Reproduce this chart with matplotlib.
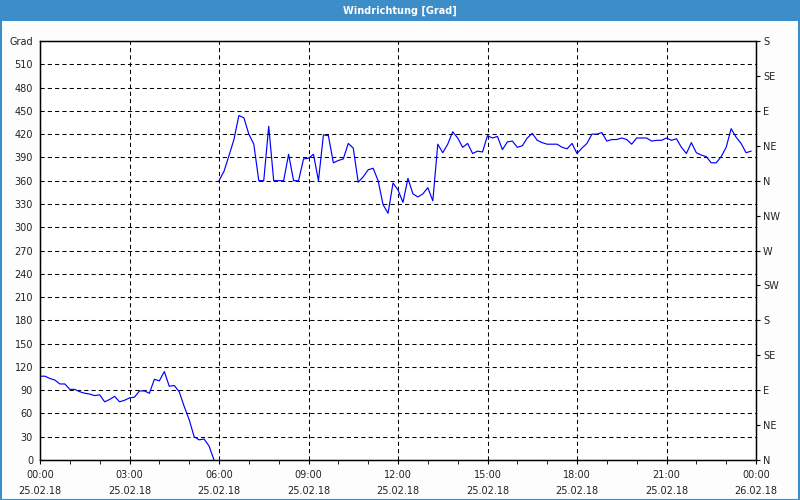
import matplotlib.pyplot as plt
import numpy as np
from matplotlib.patches import Rectangle

plt.rcParams['font.family'] = ['DejaVu Sans']

# wind direction, 10-minute values
seg1_start = 0.0   # hour of first value
seg1_values = [108, 108, 105, 103, 98, 98, 91, 91, 88, 86, 85, 83, 84, 75, 78, 82, 75, 77,
               80, 81, 89, 89, 86, 104, 102, 114, 95, 96, 88, 69, 52, 30, 26, 27, 18, 0]
seg2_start = 6.0
seg2_values = [360, 372, 392, 413, 444, 441, 420, 407, 360, 360, 430, 360, 360, 360, 394, 360,
               360, 388, 389, 394, 360, 419, 418, 383, 386, 388, 408, 402, 358, 365, 374, 376,
               360, 329, 318, 357, 348, 332, 363, 343, 339, 343, 351, 334, 407, 396, 407, 423,
               415, 403, 408, 395, 398, 397, 418, 415, 417, 400, 410, 411, 403, 405, 415, 421,
               412, 409, 407, 407, 407, 403, 401, 408, 395, 402, 408, 420, 420, 422, 411, 413,
               413, 415, 413, 407, 415, 415, 415, 411, 412, 412, 415, 412, 414, 403, 395, 409,
               396, 393, 391, 383, 383, 391, 403, 427, 416, 408, 396, 398]

xtick_hours = np.arange(0, 25, 3)
xtick_labels = ['00:00\n25.02.18', '03:00\n25.02.18', '06:00\n25.02.18', '09:00\n25.02.18',
                '12:00\n25.02.18', '15:00\n25.02.18', '18:00\n25.02.18', '21:00\n25.02.18',
                '00:00\n26.02.18']
compass = ['N', 'NE', 'E', 'SE', 'S', 'SW', 'W', 'NW', 'N', 'NE', 'E', 'SE', 'S']

blue_bar = '#3d8ec8'
txt = '#222222'

fig = plt.figure(figsize=(8, 5), dpi=100, facecolor='#fcfdfc')
fig.patches.append(Rectangle((0, 1 - 21 / 500), 1, 21 / 500, transform=fig.transFigure,
                             facecolor=blue_bar, edgecolor='none', zorder=0))
fig.patches.append(Rectangle((0.001, 0.001), 0.998, 0.998, transform=fig.transFigure,
                             fill=False, edgecolor=blue_bar, lw=1.5, zorder=5))
fig.text(0.5, 1 - 10.5 / 500, 'Windrichtung [Grad]', color='white', fontsize=7,
         fontweight='bold', ha='center', va='center')

ax = fig.add_axes([0.05, 0.08, 0.895, 0.838])
ax.set_facecolor('white')
t1 = seg1_start + np.arange(len(seg1_values)) / 6
t2 = seg2_start + np.arange(len(seg2_values)) / 6
ax.plot(t1, seg1_values, color='#0000ff', lw=0.85)
ax.plot(t2, seg2_values, color='#0000ff', lw=0.85)

ax.set_xlim(0, 24)
ax.set_ylim(0, 540)
yt = np.arange(0, 541, 30)
ax.set_yticks(yt)
ax.set_yticklabels([str(v) for v in yt[:-1]] + ['Grad'])
ax.tick_params(axis='y', length=0, pad=5, labelsize=7, labelcolor=txt)
ax.set_xticks(xtick_hours)
ax.set_xticklabels(xtick_labels)
ax.set_xticks(np.arange(0, 25, 1), minor=True)
ax.tick_params(axis='x', which='both', length=3, direction='out', pad=4.5, labelsize=7,
               labelcolor=txt)
for lab in ax.get_xticklabels():
    lab.set_linespacing(1.75)
ax.grid(True, which='major', color='black', ls=(0, (4, 3)), lw=0.75)
for s in ax.spines.values():
    s.set_color('black')
    s.set_linewidth(1.0)

ax2 = ax.twinx()
ax2.set_ylim(0, 540)
ax2.set_yticks(np.arange(0, 541, 45))
ax2.set_yticklabels(compass)
ax2.tick_params(axis='y', length=3, pad=2, labelsize=7, labelcolor=txt)

fig.savefig('out.png', dpi=100, facecolor=fig.get_facecolor())
